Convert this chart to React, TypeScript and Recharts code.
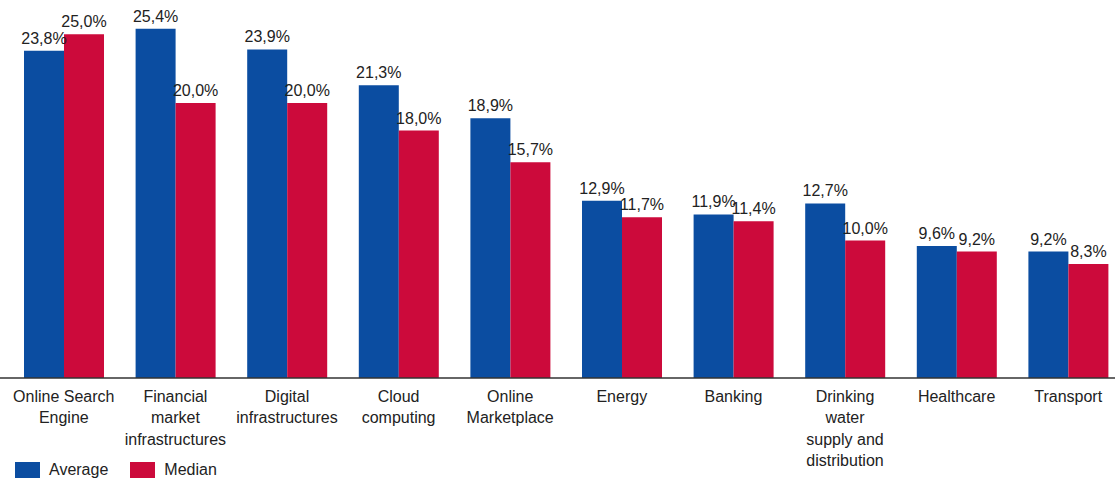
import { BarChart, Bar, XAxis, YAxis, LabelList } from "recharts";

// category labels, "\n" marks the line breaks used under the axis
const categories = [
  "Online Search\nEngine",
  "Financial\nmarket\ninfrastructures",
  "Digital\ninfrastructures",
  "Cloud\ncomputing",
  "Online\nMarketplace",
  "Energy",
  "Banking",
  "Drinking\nwater\nsupply and\ndistribution",
  "Healthcare",
  "Transport",
];
const averageValues = [23.8, 25.4, 23.9, 21.3, 18.9, 12.9, 11.9, 12.7, 9.6, 9.2];
const medianValues = [25.0, 20.0, 20.0, 18.0, 15.7, 11.7, 11.4, 10.0, 9.2, 8.3];

const BLUE = "#0B4DA1";
const RED = "#CC0A3B";
const TEXT = "#222";
const FONT = "'Liberation Sans', Arial, sans-serif";

const data = categories.map((c, i) => ({
  category: c,
  average: averageValues[i],
  median: medianValues[i],
}));

const fmt = (v: any) => Number(v).toFixed(1).replace(".", ",") + "%";

function CategoryTick({ x, y, payload }: any) {
  const lines = String(payload.value).split("\n");
  return (
    <text x={x} y={y} textAnchor="middle" fill={TEXT} fontSize={16} fontFamily={FONT}>
      {lines.map((line, i) => (
        <tspan key={i} x={x} dy={i === 0 ? 23.5 : 21.5}>
          {line}
        </tspan>
      ))}
    </text>
  );
}

export default function App() {
  return (
    <div
      style={{
        position: "fixed",
        left: 0,
        top: 0,
        width: 1115,
        height: 486,
        overflow: "hidden",
        background: "#fff",
        fontFamily: FONT,
      }}
    >
      <BarChart
        width={1130}
        height={486}
        data={data}
        margin={{ top: 6.75, right: 0, left: 0, bottom: 18 }}
        barGap={0}
        barSize={40}
      >
        <YAxis hide domain={[0, 27]} />
        <XAxis
          dataKey="category"
          interval={0}
          height={90}
          padding={{ left: 8, right: 6 }}
          tickLine={false}
          tickSize={0}
          tickMargin={0}
          axisLine={{ stroke: "#333", strokeWidth: 1.5 }}
          tick={<CategoryTick />}
        />
        <Bar dataKey="average" fill={BLUE} isAnimationActive={false}>
          <LabelList
            dataKey="average"
            position="top"
            offset={7}
            formatter={fmt}
            style={{ fill: TEXT, fontSize: 16, fontFamily: FONT }}
          />
        </Bar>
        <Bar dataKey="median" fill={RED} isAnimationActive={false}>
          <LabelList
            dataKey="median"
            position="top"
            offset={7}
            formatter={fmt}
            style={{ fill: TEXT, fontSize: 16, fontFamily: FONT }}
          />
        </Bar>
      </BarChart>

      {/* legend */}
      <div style={{ position: "absolute", left: 15, top: 462, display: "flex", alignItems: "center", fontSize: 16, color: TEXT }}>
        <span style={{ width: 25, height: 16, background: BLUE, display: "inline-block" }} />
        <span style={{ marginLeft: 9, lineHeight: "16px" }}>Average</span>
        <span style={{ width: 25, height: 16, background: RED, display: "inline-block", marginLeft: 22 }} />
        <span style={{ marginLeft: 9, lineHeight: "16px" }}>Median</span>
      </div>
    </div>
  );
}
